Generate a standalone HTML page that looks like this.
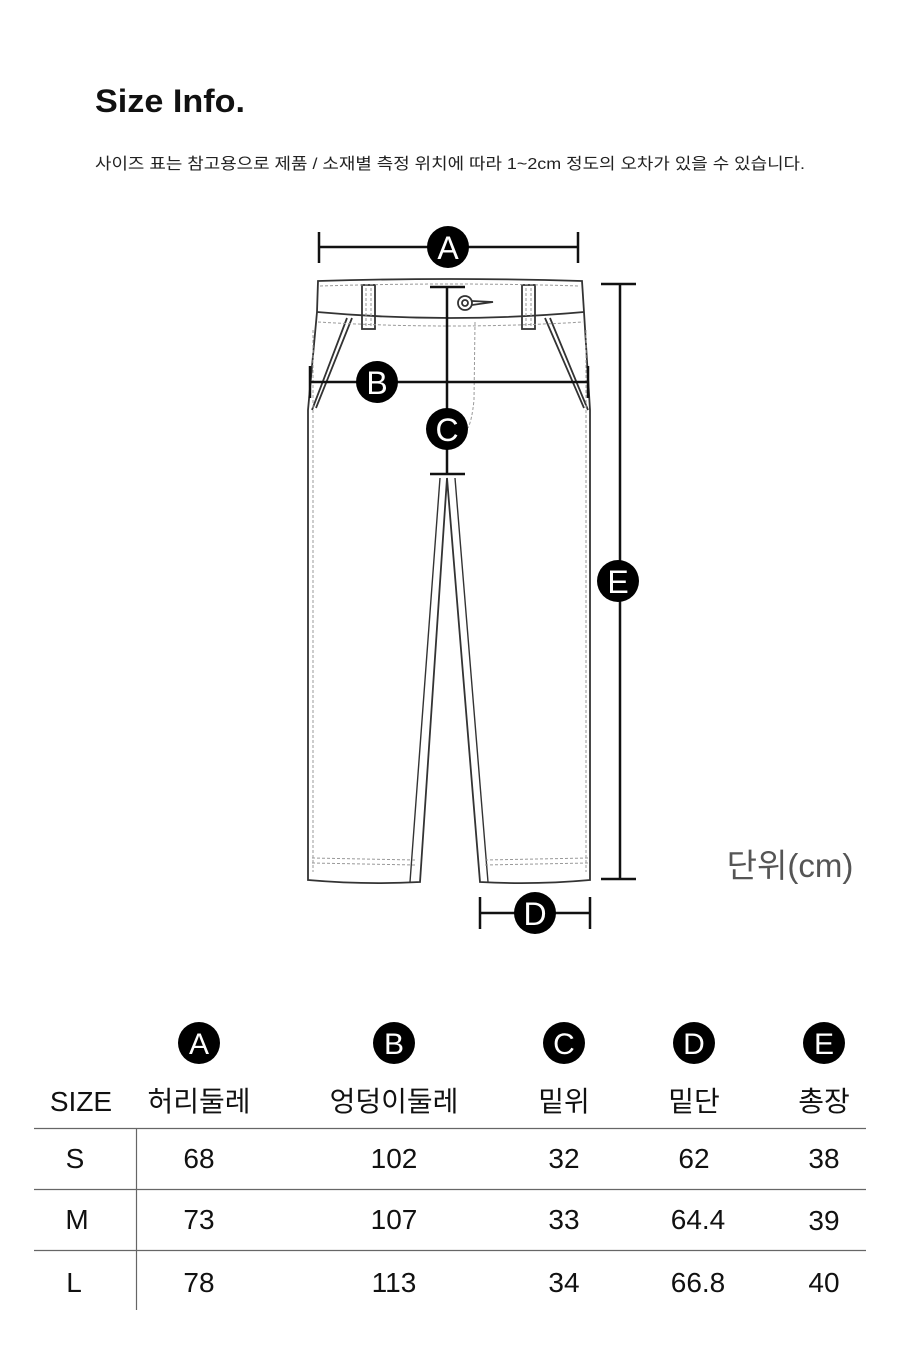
<!DOCTYPE html>
<html><head><meta charset="utf-8"><style>
html,body{margin:0;padding:0;background:#fff;}
body{width:900px;height:1363px;overflow:hidden;}
text{font-family:"Liberation Sans","Noto Sans CJK KR",sans-serif;}
</style></head><body>
<svg width="900" height="1363" viewBox="0 0 900 1363" xmlns="http://www.w3.org/2000/svg">
<text x="95" y="112" font-size="32" font-weight="bold" fill="#111" textLength="150" lengthAdjust="spacingAndGlyphs">Size Info.</text>
<text x="95" y="169" font-size="16" fill="#222" textLength="710" lengthAdjust="spacingAndGlyphs">사이즈 표는 참고용으로 제품 / 소재별 측정 위치에 따라 1~2cm 정도의 오차가 있을 수 있습니다.</text>

<!-- pants -->
<g fill="none" stroke="#333" stroke-width="1.8">
<path d="M318 281 Q450 277 582 281 L584 312 L590 410 L590 880 Q535 885 480 882 L447 478 L420 882 Q365 885 308 880 L308 410 L317 312 Z" fill="#fff"/>
<path d="M317 312 Q450 324 584 312"/>
<path d="M347 318 L312 410 M352 318 L316 408"/>
<path d="M550 318 L588 410 M545 318 L584 408"/>
<rect x="362" y="285" width="13" height="44"/>
<rect x="522" y="285" width="13" height="44"/>
<path d="M410 882 L440 478 M488 882 L455 478" stroke-width="1.4"/>
<circle cx="465" cy="303" r="7"/><circle cx="465" cy="303" r="3"/>
<path d="M472 301 L493 302 L472 305"/>
</g>
<g fill="none" stroke="#999" stroke-width="1" stroke-dasharray="3,2">
<path d="M320 286 Q450 282 580 286"/>
<path d="M318 322 Q450 330 583 322"/>
<path d="M313 330 L313 872 M586 330 L586 872"/>
<path d="M312 858 L415 860 M485 860 L588 858"/>
<path d="M312 863 L415 865 M485 865 L588 863"/>
<path d="M475 322 L474 400 Q472 420 468 428"/>
<path d="M366 288 L366 328 M371 288 L371 328 M526 288 L526 328 M531 288 L531 328"/>
</g>

<!-- dimension lines -->
<g stroke="#111" stroke-width="2.5" fill="none">
<path d="M319 247 H578 M319 232 V263 M578 232 V263"/>
<path d="M310 382 H588 M310 366 V398 M588 366 V398"/>
<path d="M447 287 V474 M430 287 H465 M430 474 H465"/>
<path d="M620 284 V879 M601 284 H636 M601 879 H636"/>
<path d="M480 913 H590 M480 897 V929 M590 897 V929"/>
</g>
<g font-size="32" fill="#fff" text-anchor="middle" font-family="Liberation Sans">
<circle cx="448" cy="247" r="21" fill="#000"/><text x="448" y="259">A</text>
<circle cx="377" cy="382" r="21" fill="#000"/><text x="377" y="394">B</text>
<circle cx="447" cy="429" r="21" fill="#000"/><text x="447" y="441">C</text>
<circle cx="618" cy="581" r="21" fill="#000"/><text x="618" y="593">E</text>
<circle cx="535" cy="913" r="21" fill="#000"/><text x="535" y="925">D</text>
</g>
<text x="790" y="877" font-size="33" fill="#555" text-anchor="middle">단위(cm)</text>

<!-- table -->
<g font-size="30" fill="#fff" text-anchor="middle">
<circle cx="199" cy="1043" r="21" fill="#000"/><text x="199" y="1054">A</text>
<circle cx="394" cy="1043" r="21" fill="#000"/><text x="394" y="1054">B</text>
<circle cx="564" cy="1043" r="21" fill="#000"/><text x="564" y="1054">C</text>
<circle cx="694" cy="1043" r="21" fill="#000"/><text x="694" y="1054">D</text>
<circle cx="824" cy="1043" r="21" fill="#000"/><text x="824" y="1054">E</text>
</g>
<g font-size="28" fill="#111" text-anchor="middle">
<text x="81" y="1111">SIZE</text><text x="199" y="1111">허리둘레</text><text x="394" y="1111">엉덩이둘레</text>
<text x="564" y="1111">밑위</text><text x="694" y="1111">밑단</text><text x="824" y="1111">총장</text>
<text x="75" y="1168">S</text><text x="199" y="1168">68</text><text x="394" y="1168">102</text><text x="564" y="1168">32</text><text x="694" y="1168">62</text><text x="824" y="1168">38</text>
<text x="77" y="1229">M</text><text x="199" y="1229">73</text><text x="394" y="1229">107</text><text x="564" y="1229">33</text><text x="698" y="1229">64.4</text><text x="824" y="1230">39</text>
<text x="74" y="1292">L</text><text x="199" y="1292">78</text><text x="394" y="1292">113</text><text x="564" y="1292">34</text><text x="698" y="1292">66.8</text><text x="824" y="1292">40</text>
</g>
<g stroke="#666" stroke-width="1.2">
<path d="M34 1128.5 H866 M34 1189.5 H866 M34 1250.5 H866"/>
<path d="M136.5 1128 V1310"/>
</g>
</svg>
</body></html>
